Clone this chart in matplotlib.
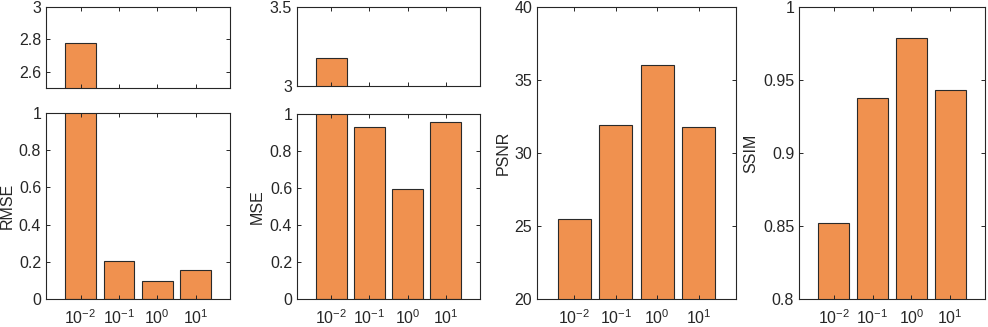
import matplotlib
matplotlib.use("Agg")
import matplotlib.pyplot as plt

# lambda values on the x axis
labels = [r"$\mathregular{10^{-2}}$", r"$\mathregular{10^{-1}}$",
          r"$\mathregular{10^{0}}$", r"$\mathregular{10^{1}}$"]

rmse = [2.78, 0.204, 0.097, 0.156]
mse = [3.18, 0.928, 0.595, 0.955]
psnr = [25.5, 31.9, 36.0, 31.8]
ssim = [0.852, 0.938, 0.979, 0.943]

plt.rcParams["font.family"] = ["Liberation Sans", "DejaVu Sans"]
plt.rcParams["mathtext.fontset"] = "custom"
plt.rcParams["mathtext.rm"] = "Liberation Sans"
plt.rcParams["font.size"] = 11.5

W, H = 988, 327
fig = plt.figure(figsize=(W / 100, H / 100), dpi=100)

bar_color = "#F0914F"
edge_color = "#2a2a2a"
axis_color = "#262626"
x = [1, 2, 3, 4]


def make_ax(left, right, top, bottom):
    return fig.add_axes([left / W, (H - bottom) / H, (right - left) / W, (bottom - top) / H])


def style(ax, values, ylim, yticks, yticklabels, xlabels=True):
    ax.bar(x, values, width=0.8, color=bar_color, edgecolor=edge_color, linewidth=0.8)
    ax.set_xlim(0.1, 4.9)
    ax.set_ylim(*ylim)
    ax.set_yticks(yticks)
    ax.set_yticklabels(yticklabels)
    ax.set_xticks(x)
    if xlabels:
        ax.set_xticklabels(labels)
    else:
        ax.set_xticklabels([])
    ax.tick_params(direction="in", top=True, right=True, length=3, width=0.7,
                   colors=axis_color, labelsize=11.5)
    ax.tick_params(axis="x", pad=7)
    for s in ax.spines.values():
        s.set_color(axis_color)
        s.set_linewidth(0.8)


# RMSE with broken axis
ax1t = make_ax(46, 230, 7, 88)
ax1b = make_ax(46, 230, 113, 299)
style(ax1t, rmse, (2.5, 3), [2.6, 2.8, 3], ["2.6", "2.8", "3"], xlabels=False)
style(ax1b, rmse, (0, 1), [0, 0.2, 0.4, 0.6, 0.8, 1], ["0", "0.2", "0.4", "0.6", "0.8", "1"])
ax1b.set_ylabel("RMSE", color=axis_color)
ax1b.yaxis.set_label_coords(-0.172, 0.5)

# MSE with broken axis
ax2t = make_ax(297, 480, 7, 86)
ax2b = make_ax(297, 480, 114, 299)
style(ax2t, mse, (3, 3.5), [3, 3.5], ["3", "3.5"], xlabels=False)
style(ax2b, mse, (0, 1), [0, 0.2, 0.4, 0.6, 0.8, 1], ["0", "0.2", "0.4", "0.6", "0.8", "1"])
ax2b.set_ylabel("MSE", color=axis_color)
ax2b.yaxis.set_label_coords(-0.178, 0.5)

# PSNR
ax3 = make_ax(537, 736, 7, 299)
style(ax3, psnr, (20, 40), [20, 25, 30, 35, 40], ["20", "25", "30", "35", "40"])
ax3.set_ylabel("PSNR", color=axis_color)
ax3.yaxis.set_label_coords(-0.134, 0.5)

# SSIM
ax4 = make_ax(799, 985, 7, 299)
style(ax4, ssim, (0.8, 1), [0.8, 0.85, 0.9, 0.95, 1], ["0.8", "0.85", "0.9", "0.95", "1"])
ax4.set_ylabel("SSIM", color=axis_color)
ax4.yaxis.set_label_coords(-0.218, 0.5)

fig.savefig("out.png", dpi=100)
